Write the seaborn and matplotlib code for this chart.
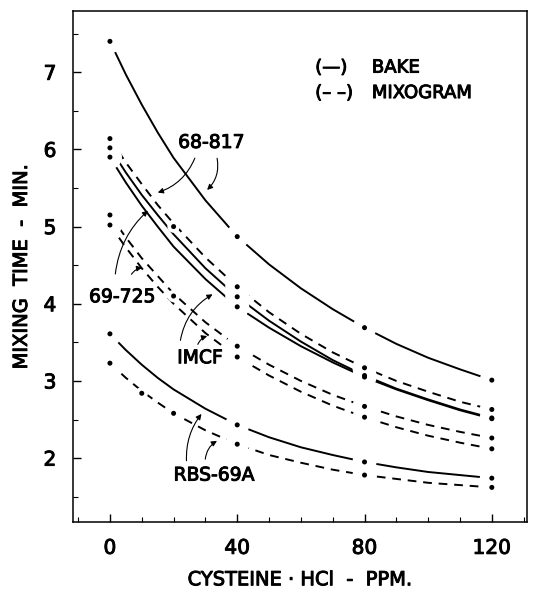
import matplotlib
matplotlib.use("Agg")
import matplotlib.pyplot as plt
import matplotlib.patheffects as pe
import seaborn as sns

# measured points (cysteine.HCl ppm vs mixing time, min)
cysteine = [0, 40, 80, 120]
bake_68817 = [7.40, 4.87, 3.69, 3.01]
mixo_68817 = [6.14, 4.22, 3.17, 2.63]
bake_69725 = [6.02, 4.09, 3.07, 2.52]
bake_imcf = [5.90, 3.96, 3.05, 2.51]
mixo_69725 = [5.15, 3.45, 2.67, 2.26]
mixo_imcf = [5.02, 3.31, 2.53, 2.12]
bake_rbs = [3.61, 2.43, 1.95, 1.74]
mixo_rbs = [3.23, 2.18, 1.78, 1.62]

# extra points shown on some mixogram curves
extra_x = [20, 20, 10, 20]
extra_y = [5.00, 4.10, 2.84, 2.58]

# fitted curves
trace_x = [0, 5, 10, 15, 20, 30, 40, 50, 60, 70, 80, 90, 100, 110, 120]
trace_bake_68817 = [7.40, 6.97, 6.58, 6.22, 5.89, 5.34, 4.87, 4.51, 4.20, 3.93, 3.69, 3.48, 3.30, 3.15, 3.01]
trace_mixo_68817 = [6.14, 5.83, 5.55, 5.28, 5.04, 4.60, 4.22, 3.89, 3.61, 3.37, 3.17, 3.00, 2.86, 2.73, 2.63]
trace_bake_69725 = [6.02, 5.70, 5.41, 5.15, 4.90, 4.46, 4.09, 3.78, 3.51, 3.27, 3.07, 2.90, 2.76, 2.63, 2.52]
trace_bake_imcf = [5.90, 5.57, 5.27, 5.00, 4.74, 4.32, 3.96, 3.69, 3.45, 3.24, 3.05, 2.89, 2.75, 2.62, 2.51]
trace_mixo_69725 = [5.15, 4.86, 4.59, 4.36, 4.13, 3.76, 3.45, 3.21, 3.00, 2.82, 2.67, 2.54, 2.43, 2.34, 2.26]
trace_mixo_imcf = [5.02, 4.73, 4.46, 4.22, 4.00, 3.62, 3.31, 3.07, 2.86, 2.68, 2.53, 2.40, 2.29, 2.20, 2.12]
trace_bake_rbs = [3.61, 3.40, 3.21, 3.04, 2.89, 2.64, 2.43, 2.27, 2.14, 2.04, 1.95, 1.88, 1.82, 1.78, 1.74]
trace_mixo_rbs = [3.23, 3.04, 2.87, 2.72, 2.58, 2.36, 2.18, 2.04, 1.94, 1.85, 1.78, 1.73, 1.68, 1.65, 1.62]

x_ticks = [0, 40, 80, 120]
y_ticks = [2, 3, 4, 5, 6, 7]

INK = [pe.withStroke(linewidth=0.7, foreground="black")]


def main():
    sns.set_style("ticks")
    plt.rcParams["font.family"] = ["DejaVu Sans"]
    for key in ["text.color", "axes.labelcolor", "xtick.color",
                "ytick.color", "axes.edgecolor"]:
        plt.rcParams[key] = "black"

    fig = plt.figure(figsize=(5.33, 5.92), dpi=100)
    ax = fig.add_axes([0.137, 0.118, 0.852, 0.863])

    solid = [trace_bake_68817, trace_bake_69725, trace_bake_imcf, trace_bake_rbs]
    dashed = [trace_mixo_68817, trace_mixo_69725, trace_mixo_imcf, trace_mixo_rbs]
    for ys in solid:
        sns.lineplot(x=trace_x, y=ys, color="black", lw=1.4, ax=ax)
    for ys in dashed:
        sns.lineplot(x=trace_x, y=ys, color="black", lw=1.4,
                     linestyle=(0, (4.5, 3.5)), ax=ax)

    # dots, with a white halo so the curves break around them
    dot_series = [bake_68817, mixo_68817, bake_69725, bake_imcf,
                  mixo_69725, mixo_imcf, bake_rbs, mixo_rbs]
    for ys in dot_series:
        sns.scatterplot(x=cysteine, y=ys, s=300, color="white",
                        edgecolor="none", zorder=3, ax=ax)
    sns.scatterplot(x=extra_x, y=extra_y, s=80, color="white",
                    edgecolor="none", zorder=3, ax=ax)
    for ys in dot_series:
        sns.scatterplot(x=cysteine, y=ys, s=13, color="black",
                        edgecolor="none", zorder=4, ax=ax)
    sns.scatterplot(x=extra_x, y=extra_y, s=13, color="black",
                    edgecolor="none", zorder=4, ax=ax)

    # labels with arrows
    txt = dict(fontsize=13.5, ha="center", va="center", path_effects=INK)
    arrow = dict(arrowstyle="-|>", color="black", lw=0.8, mutation_scale=8)
    ax.text(31.8, 6.09, "68-817", **txt)
    ax.annotate("", xy=(14.2, 5.43), xytext=(27.0, 5.92),
                arrowprops=dict(connectionstyle="arc3,rad=-0.25", **arrow))
    ax.annotate("", xy=(29.9, 5.45), xytext=(33.5, 5.92),
                arrowprops=dict(connectionstyle="arc3,rad=-0.3", **arrow))
    ax.text(3.8, 4.09, "69-725", **txt)
    ax.annotate("", xy=(12.6, 5.23), xytext=(1.6, 4.35),
                arrowprops=dict(connectionstyle="arc3,rad=-0.2", **arrow))
    ax.annotate("", xy=(11.0, 4.47), xytext=(6.3, 4.35),
                arrowprops=dict(connectionstyle="arc3,rad=-0.3", **arrow))
    ax.text(28.3, 3.30, "IMCF", **txt)
    ax.annotate("", xy=(33.0, 4.14), xytext=(22.0, 3.49),
                arrowprops=dict(connectionstyle="arc3,rad=-0.25", **arrow))
    ax.annotate("", xy=(31.4, 3.59), xytext=(27.3, 3.44),
                arrowprops=dict(connectionstyle="arc3,rad=-0.3", **arrow))
    ax.text(32.7, 1.78, "RBS-69A", **txt)
    ax.annotate("", xy=(29.3, 2.60), xytext=(24.1, 1.93),
                arrowprops=dict(connectionstyle="arc3,rad=-0.2", **arrow))
    ax.annotate("", xy=(34.4, 2.24), xytext=(29.9, 1.95),
                arrowprops=dict(connectionstyle="arc3,rad=-0.3", **arrow))

    # key
    key = dict(fontsize=13, va="center", path_effects=INK)
    ax.text(64.5, 7.06, "(—)", **key)
    ax.text(82.3, 7.06, "BAKE", **key)
    ax.text(64.5, 6.73, "(– –)", **key)
    ax.text(82.3, 6.73, "MIXOGRAM", **key)

    ax.set_xlim(-11.6, 131.1)
    ax.set_ylim(1.17, 7.79)
    ax.set_xticks(x_ticks)
    ax.set_yticks(y_ticks)
    ax.set_xticks(range(-10, 131, 10), minor=True)
    ax.set_yticks([1.5 + 0.5 * i for i in range(13)], minor=True)
    ax.tick_params(which="both", direction="in", labelsize=14.5, pad=12,
                   top=False, right=False)
    ax.tick_params(which="major", length=6, width=1)
    ax.tick_params(which="minor", length=3.5, width=0.8)
    for sp in ax.spines.values():
        sp.set_linewidth(1.1)

    ax.set_xlabel("CYSTEINE · HCl  -  PPM.", fontsize=14, labelpad=9,
                  path_effects=INK)
    ax.set_ylabel("MIXING  TIME  -  MIN.", fontsize=14, labelpad=9,
                  path_effects=INK)
    for lab in ax.get_xticklabels() + ax.get_yticklabels():
        lab.set_path_effects(INK)

    fig.savefig("out.png", dpi=100)
    plt.close(fig)


if __name__ == "__main__":
    main()
